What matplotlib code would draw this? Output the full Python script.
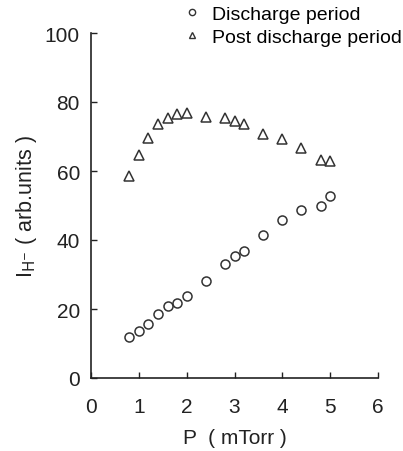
import matplotlib
matplotlib.use("Agg")
import matplotlib.pyplot as plt
from matplotlib.lines import Line2D

plt.rcParams['font.family'] = ['Liberation Sans', 'DejaVu Sans']

pressure = [0.8, 1.0, 1.2, 1.4, 1.6, 1.8, 2.0, 2.4, 2.8, 3.0, 3.2, 3.6, 4.0, 4.4, 4.8, 5.0]
discharge = [12.0, 13.5, 15.6, 18.5, 20.9, 21.8, 23.7, 28.0, 33.1, 35.3, 36.8, 41.4, 45.9, 48.6, 49.9, 52.8]
post_discharge = [58.5, 64.6, 69.6, 73.6, 75.3, 76.4, 76.7, 75.6, 75.3, 74.4, 73.6, 70.7, 69.2, 66.6, 63.2, 62.8]
x_ticks = [0, 1, 2, 3, 4, 5, 6]
y_ticks = [0, 20, 40, 60, 80, 100]
labels = ['Discharge period', 'Post discharge period']

fig = plt.figure(figsize=(4.03, 4.52), dpi=100)
ax = fig.add_axes([91/403, 1-379/452, (378-91)/403, (379-34)/452])

ax.plot(pressure, discharge, linestyle='none', marker='o', markersize=6.5,
        markerfacecolor='none', markeredgecolor='#333333', markeredgewidth=1.1)
ax.plot(pressure, post_discharge, linestyle='none', marker='^', markersize=6.5,
        markerfacecolor='none', markeredgecolor='#333333', markeredgewidth=1.1)

ax.set_xlim(0, 6)
ax.set_ylim(0, 100)
ax.set_xticks(x_ticks)
ax.set_yticks(y_ticks)
ax.spines['top'].set_visible(False)
ax.spines['right'].set_visible(False)
for s in ['left', 'bottom']:
    ax.spines[s].set_linewidth(1.2)
    ax.spines[s].set_color('#222222')
ax.tick_params(direction='in', length=4, width=1.0, labelsize=15, colors='#222222')
ax.tick_params(axis='x', pad=14)
ax.tick_params(axis='y', pad=8)

ax.set_xlabel('P  ( mTorr )', fontsize=15, color='#222222', labelpad=8)
ax.set_ylabel(r'I$_{\mathrm{H}^{-}}$ ( arb.units )', fontsize=15.5, color='#222222', labelpad=4)

handles = [
    Line2D([], [], linestyle='none', marker='o', markersize=4.5, markerfacecolor='none',
           markeredgecolor='#333333', markeredgewidth=1.0),
    Line2D([], [], linestyle='none', marker='^', markersize=4.5, markerfacecolor='none',
           markeredgecolor='#333333', markeredgewidth=1.0),
]
fig.legend(handles, labels, loc='upper left', bbox_to_anchor=(182/403, 1 - 6/452),
           frameon=False, fontsize=14, handlelength=1.0, handletextpad=0.55,
           labelspacing=0.28, borderaxespad=0.0, borderpad=0.0)

fig.savefig('out.png', dpi=100)
